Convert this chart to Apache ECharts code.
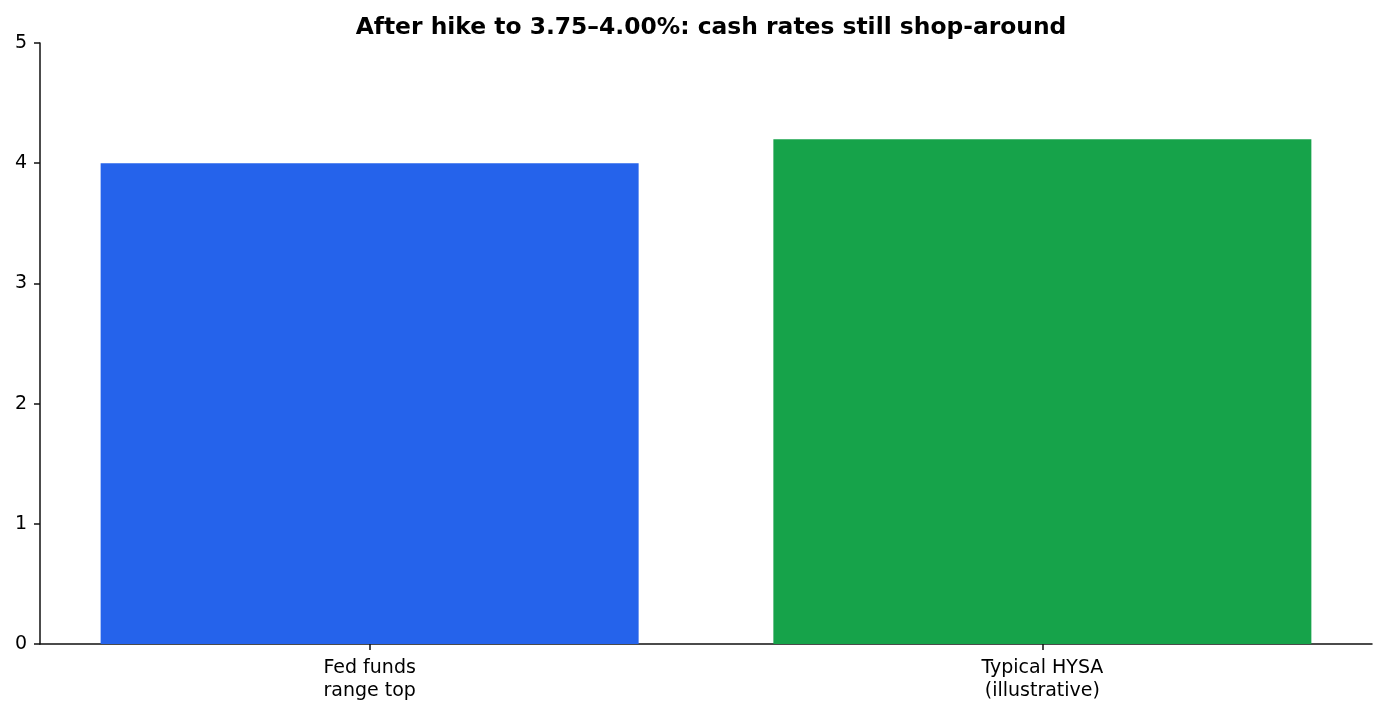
<!DOCTYPE html>
<html>
<head>
<meta charset="utf-8">
<script src="https://cdn.jsdelivr.net/npm/echarts@6/dist/echarts.min.js"></script>
<style>
  html, body { margin: 0; padding: 0; background: #fff; }
  #chart { width: 1385px; height: 713px; }
</style>
</head>
<body>
<div id="chart"></div>
<script>
// data
var categories = ['Fed funds\nrange top', 'Typical HYSA\n(illustrative)'];
var rates = [4.0, 4.2];
var yTicks = [0, 1, 2, 3, 4, 5];

var barColors = ['#2563eb', '#16a34a'];
var font = 'DejaVu Sans';

var chart = echarts.init(document.getElementById('chart'));
chart.setOption({
    animation: false,
    title: {
        text: 'After hike to 3.75–4.00%: cash rates still shop-around',
        left: 706,
        textAlign: 'center',
        top: 11,
        textStyle: { fontFamily: font, fontSize: 23.4, fontWeight: 'bold', color: '#000' }
    },
    grid: { left: 40, right: 13, top: 43, bottom: 69 },
    xAxis: {
        type: 'value',
        min: -0.49,
        max: 1.49,
        splitLine: { show: false },
        axisLine: { show: true, onZero: false, lineStyle: { color: '#111', width: 1.5 } },
        axisTick: { show: true, customValues: [0, 1], length: 6, lineStyle: { color: '#111', width: 1.5 } },
        axisLabel: {
            customValues: [0, 1],
            formatter: function (v) { return categories[Math.round(v)]; },
            fontFamily: font, fontSize: 19, color: '#000', lineHeight: 23, margin: 13
        }
    },
    yAxis: {
        type: 'value',
        min: yTicks[0],
        max: yTicks[yTicks.length - 1],
        interval: 1,
        splitLine: { show: false },
        axisLine: { show: true, onZero: false, lineStyle: { color: '#111', width: 1.5 } },
        axisTick: { show: true, length: 6, lineStyle: { color: '#111', width: 1.5 } },
        axisLabel: { fontFamily: font, fontSize: 19, color: '#000', margin: 13 }
    },
    series: [{
        type: 'bar',
        barWidth: 538,
        data: rates.map(function (r, i) {
            return { value: [i, r], itemStyle: { color: barColors[i] } };
        })
    }]
});
</script>
</body>
</html>
